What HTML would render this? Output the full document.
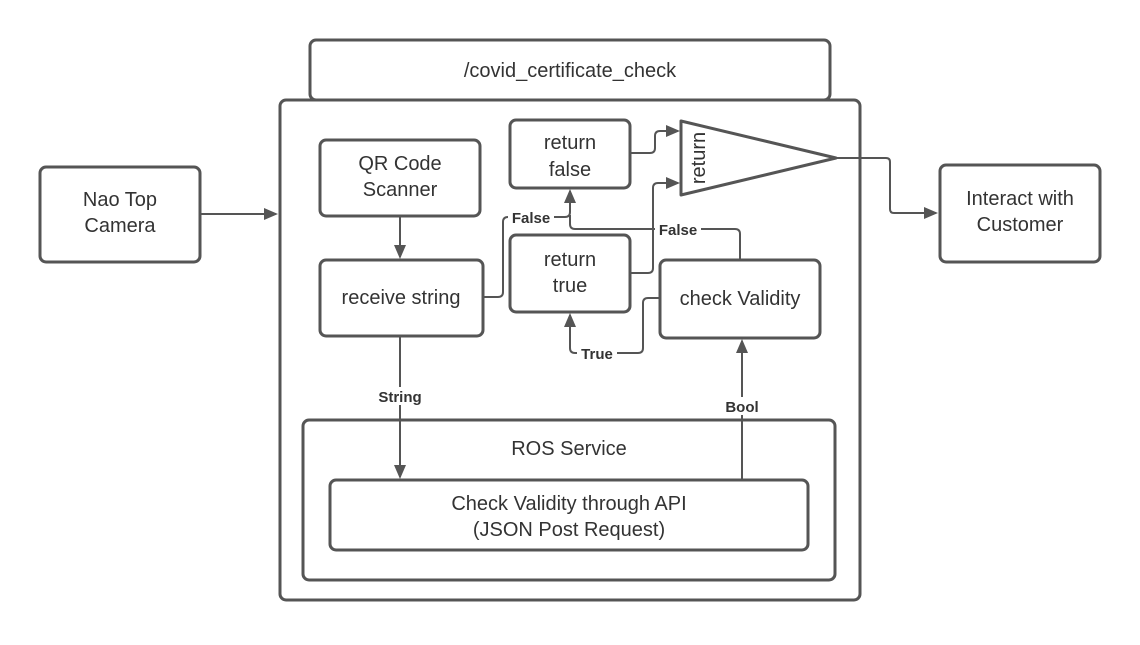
<!DOCTYPE html>
<html><head><style>
html,body{margin:0;padding:0;background:#fff;}
svg text{font-family:"Liberation Sans",Arial,sans-serif;fill:#333;}
</style></head><body>
<svg width="1140" height="640" viewBox="0 0 1140 640" xmlns="http://www.w3.org/2000/svg">
<defs>
<marker id="a" markerWidth="14" markerHeight="14" refX="12" refY="7" orient="auto" markerUnits="userSpaceOnUse">
<path d="M0,1 L14,7 L0,13 z" fill="#555"/>
</marker>
</defs>
<g fill="#fff" stroke="#555" stroke-width="3">
<rect x="310" y="40" width="520" height="60" rx="6"/>
<rect x="280" y="100" width="580" height="500" rx="6"/>
<rect x="40" y="167" width="160" height="95" rx="6"/>
<rect x="940" y="165" width="160" height="97" rx="6"/>
<rect x="320" y="140" width="160" height="76" rx="6"/>
<rect x="320" y="260" width="163" height="76" rx="6"/>
<rect x="510" y="120" width="120" height="68" rx="6"/>
<rect x="510" y="235" width="120" height="77" rx="6"/>
<rect x="660" y="260" width="160" height="78" rx="6"/>
<rect x="303" y="420" width="532" height="160" rx="6"/>
<rect x="330" y="480" width="478" height="70" rx="6"/>
<path d="M681,121 L836,158 L681,195 z" stroke-linejoin="round"/>
</g>
<g fill="none" stroke="#555" stroke-width="2">
<path d="M200,214 H276" marker-end="url(#a)"/>
<path d="M836,158 H886 Q890,158 890,162 V209 Q890,213 894,213 H936" marker-end="url(#a)"/>
<path d="M400,216 V257" marker-end="url(#a)"/>
<path d="M400,336 V477" marker-end="url(#a)"/>
<path d="M742,480 V341" marker-end="url(#a)"/>
<path d="M630,153 H650 Q655,153 655,148 V136 Q655,131 660,131 H678" marker-end="url(#a)"/>
<path d="M630,273 H648 Q653,273 653,268 V188 Q653,183 658,183 H678" marker-end="url(#a)"/>
<path d="M483,297 H498 Q503,297 503,292 V222 Q503,217 508,217 H565 Q570,217 570,212 V191" marker-end="url(#a)"/>
<path d="M740,260 V234 Q740,229 735,229 H575 Q570,229 570,224 V215"/>
<path d="M660,298 H648 Q643,298 643,303 V348 Q643,353 638,353 H575 Q570,353 570,348 V315" marker-end="url(#a)"/>
</g>
<g font-size="20" text-anchor="middle">
<text x="570" y="77">/covid_certificate_check</text>
<text x="120" y="206">Nao Top</text>
<text x="120" y="232">Camera</text>
<text x="1020" y="205">Interact with</text>
<text x="1020" y="231">Customer</text>
<text x="400" y="170">QR Code</text>
<text x="400" y="196">Scanner</text>
<text x="401" y="304">receive string</text>
<text x="570" y="149">return</text>
<text x="570" y="176">false</text>
<text x="570" y="266">return</text>
<text x="570" y="292">true</text>
<text x="740" y="305">check Validity</text>
<text x="569" y="455">ROS Service</text>
<text x="569" y="510">Check Validity through API</text>
<text x="569" y="536">(JSON Post Request)</text>
<text transform="translate(705,158) rotate(-90)">return</text>
</g>
<g font-size="15" font-weight="bold" text-anchor="middle">
<rect x="508" y="208" width="46" height="18" fill="#fff"/>
<text x="531" y="223">False</text>
<rect x="655" y="220" width="46" height="18" fill="#fff"/>
<text x="678" y="235">False</text>
<rect x="577" y="344" width="40" height="18" fill="#fff"/>
<text x="597" y="359">True</text>
<rect x="372" y="387" width="56" height="18" fill="#fff"/>
<text x="400" y="402">String</text>
<rect x="720" y="397" width="44" height="18" fill="#fff"/>
<text x="742" y="412">Bool</text>
</g>
</svg>
</body></html>
